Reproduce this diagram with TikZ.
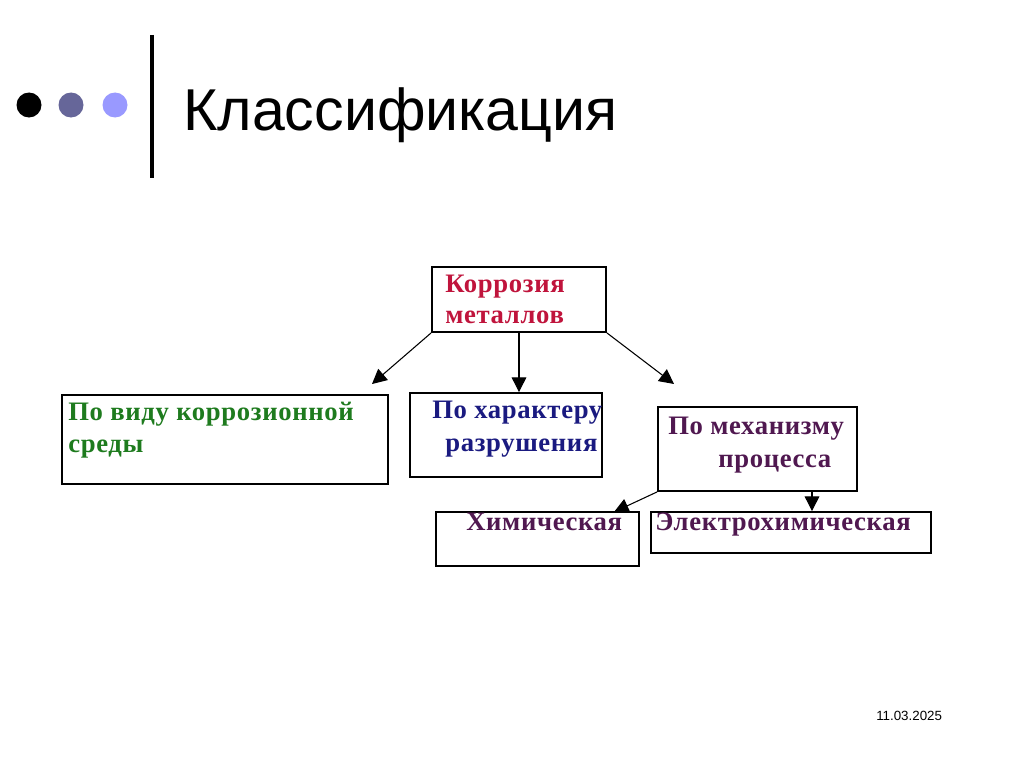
\documentclass[tikz,border=0pt]{standalone}
\usepackage{fontspec}
\setmainfont{Liberation Serif}
\newfontfamily\titlefont{Liberation Sans}
\newfontfamily\boxfont[LetterSpace=2.5]{Liberation Serif}
\usetikzlibrary{arrows.meta}
\newdimen\pxu \pxu=0.75pt
\definecolor{cred}{HTML}{C0143C}
\definecolor{cgreen}{HTML}{1E7B1E}
\definecolor{cblue}{HTML}{1A1A80}
\definecolor{cplum}{HTML}{501850}
\definecolor{dotmid}{HTML}{666699}
\definecolor{dotlight}{HTML}{9999FF}
\begin{document}
\begin{tikzpicture}[x=0.75pt,y=-0.75pt,
  box/.style={draw=black,line width=1.4pt,fill=white,inner sep=0pt},
  lbl/.style={anchor=base west,inner sep=0pt,font=\boxfont\bfseries\fontsize{20}{24}\selectfont},
  conn/.style={line width=0.8pt,-{Triangle[length=11pt,width=11pt]}}]
\useasboundingbox (0,0) rectangle (1024,767);
% header
\fill (29,105) ellipse [x radius=12.5, y radius=12.5];
\fill[dotmid] (71,105) ellipse [x radius=12.5, y radius=12.5];
\fill[dotlight] (115,105) ellipse [x radius=12.5, y radius=12.5];
\draw[line width=3pt] (152,35) -- (152,178);
\node[anchor=base west,inner sep=0pt,font=\titlefont\fontsize{44.3}{50}\selectfont] (title) at (183,130) {Классификация};
\node[anchor=base west,inner sep=0pt,font=\titlefont\fontsize{10}{12}\selectfont] (date) at (876,720) {11.03.2025};
% boxes
\node[box,minimum width=174\pxu,minimum height=65\pxu] (top) at (519,299.5) {};
\node[box,minimum width=326\pxu,minimum height=89\pxu] (left) at (225,439.5) {};
\node[box,minimum width=192\pxu,minimum height=84\pxu] (mid) at (506,435) {};
\node[box,minimum width=199\pxu,minimum height=84\pxu] (right) at (757.5,449) {};
\node[box,minimum width=203\pxu,minimum height=54\pxu] (chem) at (537.5,539) {};
\node[box,minimum width=280\pxu,minimum height=41\pxu] (elec) at (791,532.5) {};
% texts
\node[lbl,text=cred] (t1) at (445,292) {Коррозия};
\node[lbl,text=cred] (t2) at (445,323) {металлов};
\node[lbl,text=cgreen] (t3) at (68,420) {По виду коррозионной};
\node[lbl,text=cgreen] (t4) at (68,452) {среды};
\node[lbl,text=cblue] (t5) at (432,418) {По характеру};
\node[lbl,text=cblue] (t6) at (445,451) {разрушения};
\node[lbl,text=cplum] (t7) at (668,434) {По механизму};
\node[lbl,text=cplum] (t8) at (718,467) {процесса};
\node[lbl,text=cplum] (t9) at (466,530) {Химическая};
\node[lbl,text=cplum] (t10) at (655,530) {Электрохимическая};
% connectors
\coordinate (a1) at (372,384);
\coordinate (a3) at (674,384);
\coordinate (a4) at (614,512);
\coordinate (r2) at (812,491);
\draw[conn] (top.south west) -- (a1);
\draw[conn] (top.south) -- (top.south |- mid.north);
\draw[conn] (top.south east) -- (a3);
\draw[conn] (right.south west) -- (a4);
\draw[conn] (r2) -- (r2 |- elec.north);
\end{tikzpicture}
\end{document}
